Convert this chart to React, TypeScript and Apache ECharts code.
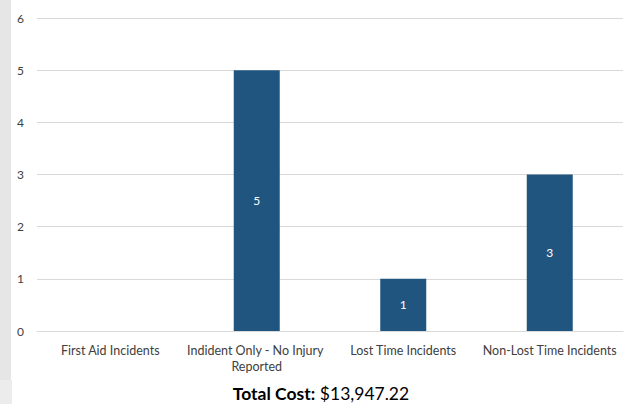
import React, { useEffect, useRef } from "react";
import * as echarts from "echarts";

const categories = [
  "First Aid Incidents",
  "Indident Only - No Injury Reported",
  "Lost Time Incidents",
  "Non-Lost Time Incidents",
];
const counts = [0, 5, 1, 3];
const yTicks = [0, 1, 2, 3, 4, 5, 6];
const totalCostLabel = "Total Cost:";
const totalCostValue = "$13,947.22";

const FONT = "Lato, 'Open Sans', sans-serif";

export default function App() {
  const ref = useRef<HTMLDivElement>(null);
  useEffect(() => {
    document.body.style.margin = "0";
    const chart = echarts.init(ref.current!, null, { renderer: "svg" });
    chart.setOption({
      animation: false,
      backgroundColor: "#ffffff",
      textStyle: { fontFamily: FONT },
      graphic: [
        { type: "rect", shape: { x: 0, y: 0, width: 11, height: 380 }, style: { fill: "#e6e6e6" } },
        { type: "rect", shape: { x: 0, y: 380, width: 12, height: 24 }, style: { fill: "#ececec" } },
      ],
      title: {
        text: `{b|${totalCostLabel}} {r|${totalCostValue}}`,
        left: 316,
        top: 379,
        textAlign: "center",
        textStyle: {
          fontWeight: "normal",
          rich: {
            b: { fontFamily: FONT, fontSize: 17.5, fontWeight: "bold", color: "#000000" },
            r: { fontFamily: FONT, fontSize: 17.5, fontWeight: "normal", color: "#000000" },
          },
        },
      },
      grid: { left: 37, right: 12, top: 18, bottom: 73, containLabel: false },
      xAxis: {
        type: "category",
        data: categories,
        axisLine: { show: true, lineStyle: { color: "#d9d9d9", width: 1 } },
        axisTick: { show: false },
        axisLabel: {
          color: "#404040",
          fontFamily: FONT,
          fontSize: 12.5,
          interval: 0,
          margin: 11,
          width: 146,
          overflow: "break",
          lineHeight: 16,
        },
      },
      yAxis: {
        type: "value",
        min: 0,
        max: yTicks[yTicks.length - 1],
        interval: 1,
        axisLine: { show: false },
        axisTick: { show: false },
        axisLabel: { color: "#404040", fontFamily: FONT, fontSize: 12, margin: 13, align: "right" },
        splitLine: { lineStyle: { color: "#d9d9d9", width: 1 } },
      },
      series: [
        {
          type: "bar",
          data: counts,
          barWidth: 46,
          itemStyle: { color: "#1f557e" },
          label: {
            show: true,
            position: "inside",
            color: "#ffffff",
            fontFamily: FONT,
            fontSize: 12,
            formatter: (p: any) => (p.value ? String(p.value) : ""),
          },
        },
      ],
    });
    return () => chart.dispose();
  }, []);
  return <div ref={ref} style={{ width: 635, height: 404 }} />;
}
